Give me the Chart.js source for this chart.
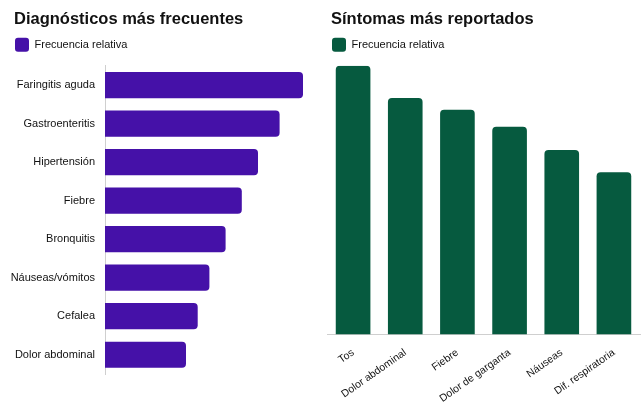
<!DOCTYPE html>
<html lang="es">
<head>
<meta charset="utf-8">
<title>Diagnósticos y síntomas</title>
<script src="https://cdn.jsdelivr.net/npm/chart.js@4.4.1/dist/chart.umd.min.js"></script>
<style>
  html, body { margin: 0; padding: 0; background: #fff; }
  .wrap { display: flex; width: 642px; height: 419px; }
  .panel { position: relative; height: 419px; width: 321px; }
</style>
</head>
<body>
<div class="wrap">
  <div class="panel"><canvas id="diagChart"></canvas></div>
  <div class="panel"><canvas id="symChart"></canvas></div>
</div>
<script>
// --- data ---
const diagLabels = ['Faringitis aguda', 'Gastroenteritis', 'Hipertensión', 'Fiebre',
                    'Bronquitis', 'Náuseas/vómitos', 'Cefalea', 'Dolor abdominal'];
const diagValues = [22, 19.4, 17, 15.2, 13.4, 11.6, 10.3, 9];

const symLabels = ['Tos', 'Dolor abdominal', 'Fiebre', 'Dolor de garganta', 'Náuseas', 'Dif. respiratoria'];
const symValues = [30, 26.4, 25.1, 23.2, 20.6, 18.1];

const seriesName = 'Frecuencia relativa';

const PURPLE = '#4511A8';
const GREEN = '#065A3F';
const FONT = "'Liberation Sans', Arial, sans-serif";

Chart.defaults.font.family = FONT;
Chart.defaults.color = '#111';
Chart.defaults.animation = false;

// a bit of extra room under the legend
const legendGap = {
    id: 'legendGap',
    beforeInit(chart) {
        const fit = chart.legend.fit;
        chart.legend.fit = function () {
            fit.bind(chart.legend)();
            this.height += 4;
        };
    }
};

// nudge the title a few px to the right so it lines up with the legend box
const titleNudge = {
    id: 'titleNudge',
    afterLayout(chart) {
        if (chart.titleBlock) {
            chart.titleBlock.left += 4;
            chart.titleBlock.right += 4;
        }
    }
};

function commonPlugins(titleText) {
    return {
        title: {
            display: true,
            text: titleText,
            align: 'start',
            color: '#111',
            font: { size: 16.5, weight: 'bold' },
            padding: { top: 10, bottom: 3 }
        },
        legend: {
            display: true,
            align: 'start',
            labels: {
                boxWidth: 14,
                boxHeight: 14,
                useBorderRadius: true,
                borderRadius: 3,
                color: '#111',
                font: { size: 11 },
                padding: 5
            }
        },
        tooltip: { enabled: false }
    };
}

// --- Horizontal bar chart: diagnoses ---
new Chart(document.getElementById('diagChart'), {
    type: 'bar',
    data: {
        labels: diagLabels,
        datasets: [{
            label: seriesName,
            data: diagValues,
            backgroundColor: PURPLE,
            borderRadius: 4,
            borderSkipped: 'start',
            categoryPercentage: 0.8,
            barPercentage: 0.85
        }]
    },
    options: {
        indexAxis: 'y',
        responsive: true,
        maintainAspectRatio: false,
        layout: { padding: { left: 10, right: 18, bottom: 45 } },
        scales: {
            x: {
                display: false,
                min: 0,
                max: diagValues[0]
            },
            y: {
                grid: { display: false, drawTicks: false },
                border: { display: true, color: '#cfcfcf', width: 1 },
                ticks: { color: '#111', font: { size: 11 }, padding: 10 },
                afterFit(scale) { scale.width = 95; }
            }
        },
        plugins: commonPlugins('Diagnósticos más frecuentes')
    },
    plugins: [legendGap, titleNudge]
});

// --- Vertical bar chart: symptoms ---
new Chart(document.getElementById('symChart'), {
    type: 'bar',
    data: {
        labels: symLabels,
        datasets: [{
            label: seriesName,
            data: symValues,
            backgroundColor: GREEN,
            borderRadius: 4,
            borderSkipped: 'start',
            categoryPercentage: 0.8,
            barPercentage: 0.83
        }]
    },
    options: {
        responsive: true,
        maintainAspectRatio: false,
        layout: { padding: { left: 6, right: 2, bottom: 10 } },
        scales: {
            y: {
                display: false,
                min: 0,
                max: symValues[0]
            },
            x: {
                grid: { display: false },
                border: { display: true, color: '#cfcfcf', width: 1 },
                ticks: {
                    color: '#111',
                    font: { size: 10.5 },
                    minRotation: 35,
                    maxRotation: 35,
                    autoSkip: false,
                    padding: 4
                }
            }
        },
        plugins: commonPlugins('Síntomas más reportados')
    },
    plugins: [legendGap, titleNudge]
});
</script>
</body>
</html>
